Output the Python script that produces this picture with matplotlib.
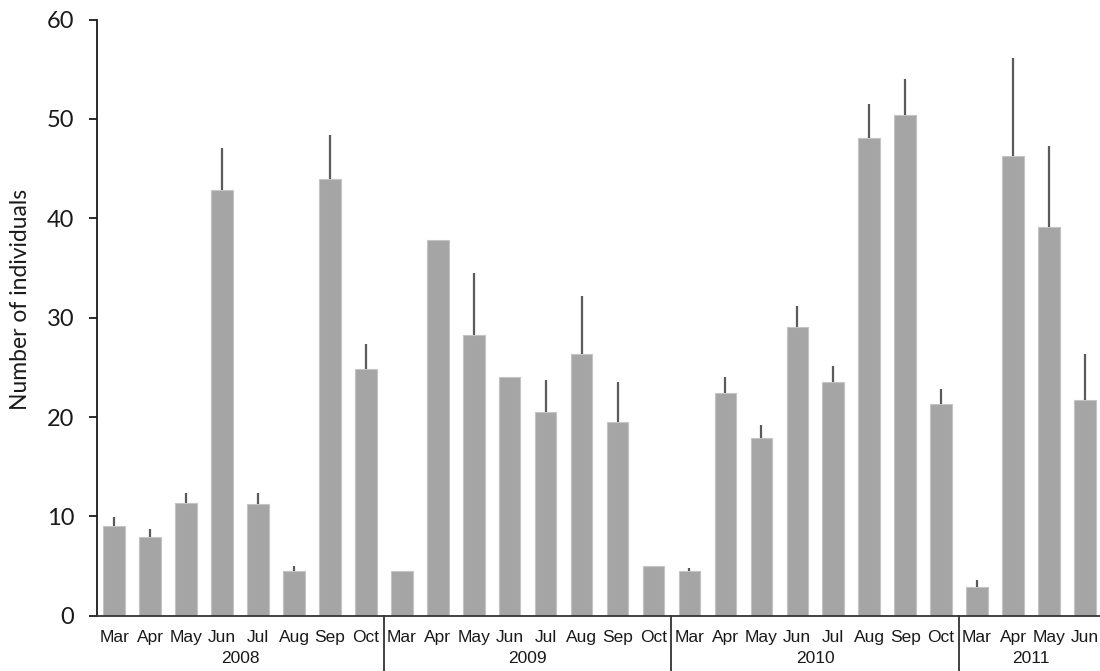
import numpy as np
import matplotlib
matplotlib.use("Agg")
import matplotlib.pyplot as plt
import matplotlib.transforms as mtransforms

# monthly counts, 2008-2011
years = ["2008", "2009", "2010", "2011"]
months_per_year = [
    ["Mar", "Apr", "May", "Jun", "Jul", "Aug", "Sep", "Oct"],
    ["Mar", "Apr", "May", "Jun", "Jul", "Aug", "Sep", "Oct"],
    ["Mar", "Apr", "May", "Jun", "Jul", "Aug", "Sep", "Oct"],
    ["Mar", "Apr", "May", "Jun"],
]
means = [
    9.0, 7.9, 11.3, 42.8, 11.2, 4.5, 44.0, 24.8,
    4.5, 37.8, 28.3, 24.0, 20.5, 26.3, 19.5, 5.0,
    4.5, 22.4, 17.9, 29.1, 23.5, 48.1, 50.4, 21.3,
    2.9, 46.3, 39.1, 21.7,
]
# upper error (SE), 0 = none shown
errs = [
    0.9, 0.8, 1.1, 4.3, 1.2, 0.5, 4.4, 2.5,
    0.0, 0.0, 6.2, 0.0, 3.2, 5.9, 4.0, 0.0,
    0.3, 1.6, 1.3, 2.1, 1.6, 3.4, 3.6, 1.5,
    0.7, 9.8, 8.2, 4.6,
]

months = [m for ms in months_per_year for m in ms]
x = np.arange(len(means))

fig = plt.figure(figsize=(11, 6.71), dpi=100)
ax = fig.add_axes([0.0885, 0.0824, 0.9115, 0.8884])

ax.bar(x, means, width=0.6, color="#a5a5a5", edgecolor="#c4c4c4", linewidth=0.8, zorder=2)
ax.errorbar(x, means, yerr=[np.zeros(len(errs)), errs], fmt="none",
            ecolor="#5a5a5a", elinewidth=1.6, capsize=0, zorder=3)

ax.set_xlim(-0.47, 27.42)
ax.set_ylim(0, 60)
ax.set_yticks(range(0, 61, 10))
ax.set_xticks([])

for s in ["top", "right"]:
    ax.spines[s].set_visible(False)
ax.spines["left"].set_linewidth(1.3)
ax.spines["bottom"].set_linewidth(1.3)
ax.spines["left"].set_color("#1a1a1a")
ax.spines["bottom"].set_color("#333333")

ax.tick_params(axis="y", direction="out", length=5.5, width=1.3, color="#1a1a1a",
               pad=11, labelsize=17, labelcolor="#1a1a1a")
for lab in ax.get_yticklabels():
    lab.set_fontfamily("Lato")

ax.set_ylabel("Number of individuals", family="Lato", fontsize=16.5, color="#1a1a1a")
ax.yaxis.set_label_coords(-0.066, 0.53)

trans = mtransforms.blended_transform_factory(ax.transData, ax.transAxes)

# month labels
for xi, m in zip(x, months):
    ax.text(xi, -0.036, m, transform=trans, ha="center", va="center",
            family="Liberation Sans", fontsize=12.5, color="#1a1a1a")

# year labels and separators
start = 0
for i, (yr, ms) in enumerate(zip(years, months_per_year)):
    n = len(ms)
    ax.text(start + (n - 1) / 2, -0.071, yr, transform=trans, ha="center", va="center",
            family="Liberation Sans", fontsize=12.5, color="#1a1a1a")
    if i < len(years) - 1:
        xs = start + n - 0.5
        ax.plot([xs, xs], [0, -0.1], transform=trans, color="#333333",
                linewidth=1.3, clip_on=False)
    start += n

fig.savefig("out.png", dpi=100)
